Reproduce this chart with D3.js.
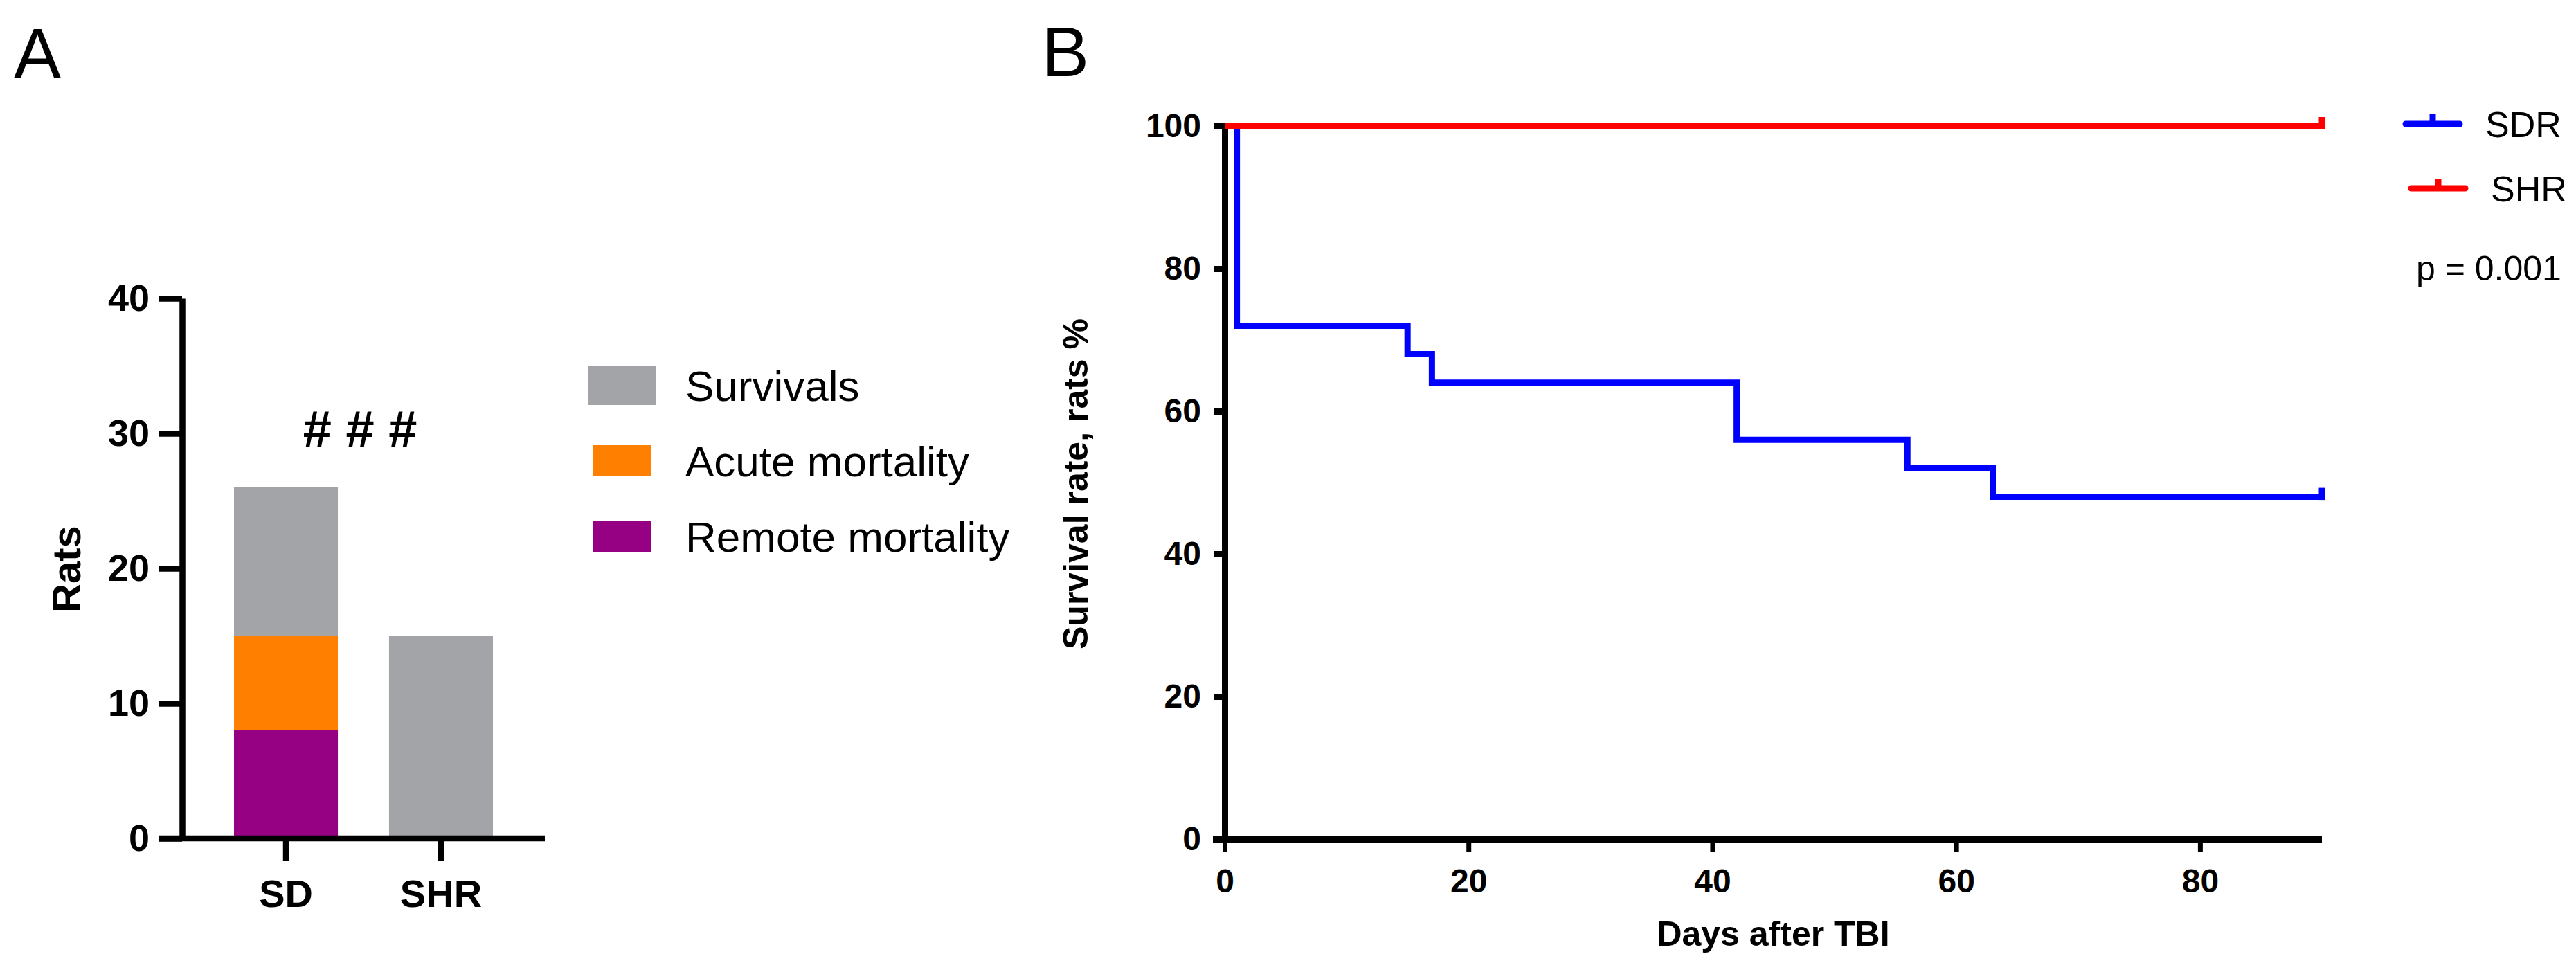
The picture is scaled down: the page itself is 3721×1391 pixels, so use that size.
<!DOCTYPE html>
<html>
<head>
<meta charset="utf-8">
<script src="https://cdn.jsdelivr.net/npm/d3@7"></script>
<style>
  body { margin: 0; background: #fff; }
  svg { display: block; font-family: Arial, 'Liberation Sans', sans-serif; }
</style>
</head>
<body>
<svg id="chart"></svg>
<script>
/* global d3 */

// panel A: stacked bars
const groups = ['SD', 'SHR']
const remoteMortality = [8, 0]
const acuteMortality = [7, 0]
const survivals = [11, 15]
const ratTicks = [0, 10, 20, 30, 40]
const stackKeys = ['remote', 'acute', 'survivals']
const legendA = ['Survivals', 'Acute mortality', 'Remote mortality']
const legendKeys = ['survivals', 'acute', 'remote']

// panel B: Kaplan-Meier curves
const sdrDays = [0, 1, 15, 17, 42, 56, 63, 90]
const sdrSurvival = [100, 72, 68, 64, 56, 52, 48, 48]
const shrDays = [0, 90]
const shrSurvival = [100, 100]
const dayTicks = [0, 20, 40, 60, 80]
const survivalTicks = [0, 20, 40, 60, 80, 100]

document.addEventListener('DOMContentLoaded', function () {
  const width = 3721
  const height = 1391

  const colours = {
    survivals: '#a3a4a8',
    acute: '#ff8000',
    remote: '#960082',
    blue: '#0000ff',
    red: '#ff0000',
    black: '#000000'
  }

  const svg = d3.select('#chart')
    .attr('width', width)
    .attr('height', height)

  // ---------- panel A ----------
  const xA = d3.scaleBand().domain(groups).range([263, 787])
    .paddingInner(0.33).paddingOuter(0.335)
  const yA = d3.scaleLinear().domain([0, 40]).range([1211, 431])

  const rows = groups.map((g, i) => ({
    group: g,
    remote: remoteMortality[i],
    acute: acuteMortality[i],
    survivals: survivals[i]
  }))
  const stacked = d3.stack().keys(stackKeys)(rows)

  svg.append('g')
    .selectAll('g')
    .data(stacked)
    .enter()
    .append('g')
    .attr('fill', d => colours[d.key])
    .selectAll('rect')
    .data(d => d)
    .enter()
    .append('rect')
    .attr('x', d => xA(d.data.group))
    .attr('width', xA.bandwidth())
    .attr('y', d => yA(d[1]))
    .attr('height', d => yA(d[0]) - yA(d[1]))

  const axisA = svg.append('g')
    .attr('transform', 'translate(263,0)')
    .call(d3.axisLeft(yA).tickValues(ratTicks).tickSize(33).tickSizeOuter(0).tickPadding(14))
  axisA.select('.domain').attr('stroke-width', 8.5)
  axisA.selectAll('.tick line').attr('stroke-width', 8.5)
  axisA.selectAll('.tick text').attr('font-size', 54).attr('font-weight', 'bold')
    .attr('font-family', 'Arial, Liberation Sans')

  const xAxisA = svg.append('g')
    .attr('transform', 'translate(0,1211)')
    .call(d3.axisBottom(xA).tickSize(33).tickSizeOuter(0).tickPadding(26))
  xAxisA.select('.domain').remove()
  xAxisA.selectAll('.tick line').attr('stroke-width', 8.5)
  xAxisA.selectAll('.tick text').attr('font-size', 56).attr('font-weight', 'bold')
    .attr('font-family', 'Arial, Liberation Sans')
  svg.append('line')
    .attr('x1', 263 - 33).attr('x2', xA.range()[1])
    .attr('y1', yA(0)).attr('y2', yA(0))
    .attr('stroke', colours.black).attr('stroke-width', 8.5)

  svg.append('text')
    .attr('transform', 'translate(95,822) rotate(-90)')
    .attr('text-anchor', 'middle').attr('dominant-baseline', 'central')
    .attr('font-size', 58).attr('font-weight', 'bold')
    .text('Rats')

  svg.append('text')
    .attr('x', xA('SD') + xA.bandwidth() / 2 + 107).attr('y', 645)
    .attr('text-anchor', 'middle')
    .attr('font-size', 74).attr('font-weight', 'bold')
    .text('# # #')

  const legA = svg.append('g')
    .selectAll('g')
    .data(legendA)
    .enter()
    .append('g')
    .attr('transform', (d, i) => 'translate(0,' + (557 + i * 109) + ')')
  legA.append('rect')
    .attr('x', (d, i) => i === 0 ? 850 : 857)
    .attr('y', (d, i) => i === 0 ? -28 : -23)
    .attr('width', (d, i) => i === 0 ? 97 : 83)
    .attr('height', (d, i) => i === 0 ? 56 : 45)
    .attr('fill', (d, i) => colours[legendKeys[i]])
  legA.append('text')
    .attr('x', 990).attr('y', 22)
    .attr('font-size', 62)
    .text(d => d)

  svg.append('text')
    .attr('x', 20).attr('y', 113)
    .attr('font-size', 102)
    .text('A')

  // ---------- panel B ----------
  const xB = d3.scaleLinear().domain([0, 90]).range([1769, 3354])
  const yB = d3.scaleLinear().domain([0, 100]).range([1212, 182])

  const yAxisB = svg.append('g')
    .attr('transform', 'translate(1769,0)')
    .call(d3.axisLeft(yB).tickValues(survivalTicks).tickSize(15).tickSizeOuter(0).tickPadding(19))
  yAxisB.select('.domain').attr('stroke-width', 9)
  yAxisB.selectAll('.tick line').attr('stroke-width', 9)
  yAxisB.selectAll('.tick text').attr('font-size', 48).attr('font-weight', 'bold')
    .attr('font-family', 'Arial, Liberation Sans')

  const xAxisB = svg.append('g')
    .attr('transform', 'translate(0,1212)')
    .call(d3.axisBottom(xB).tickValues(dayTicks).tickSize(18).tickSizeOuter(0).tickPadding(25))
  xAxisB.select('.domain').remove()
  xAxisB.selectAll('.tick line').attr('stroke-width', 7)
  xAxisB.selectAll('.tick text').attr('font-size', 48).attr('font-weight', 'bold')
    .attr('font-family', 'Arial, Liberation Sans')
  svg.append('line')
    .attr('x1', xB(0) - 17).attr('x2', xB(90))
    .attr('y1', yB(0)).attr('y2', yB(0))
    .attr('stroke', colours.black).attr('stroke-width', 10)

  svg.append('text')
    .attr('x', (xB(0) + xB(90)) / 2).attr('y', 1366)
    .attr('text-anchor', 'middle')
    .attr('font-size', 50).attr('font-weight', 'bold')
    .text('Days after TBI')

  svg.append('text')
    .attr('transform', 'translate(1554,699) rotate(-90)')
    .attr('text-anchor', 'middle').attr('dominant-baseline', 'central')
    .attr('font-size', 50).attr('font-weight', 'bold')
    .text('Survival rate, rats %')

  const line = d3.line()
    .x(d => xB(d[0]))
    .y(d => yB(d[1]))
    .curve(d3.curveStepAfter)

  const curves = [
    { days: sdrDays, values: sdrSurvival, colour: colours.blue },
    { days: shrDays, values: shrSurvival, colour: colours.red }
  ]

  curves.forEach(c => {
    const pts = c.days.map((d, i) => [d, c.values[i]])
    svg.append('path')
      .attr('d', line(pts))
      .attr('fill', 'none')
      .attr('stroke', c.colour)
      .attr('stroke-width', 9)
      .attr('stroke-linejoin', 'miter')
    // censor mark at the end of follow-up
    const last = pts[pts.length - 1]
    svg.append('line')
      .attr('x1', xB(last[0])).attr('x2', xB(last[0]))
      .attr('y1', yB(last[1]) + 4.5).attr('y2', yB(last[1]) - 13)
      .attr('stroke', c.colour).attr('stroke-width', 9)
  })

  const legendB = [
    { name: 'SDR', colour: colours.blue, x: 3475, y: 179 },
    { name: 'SHR', colour: colours.red, x: 3483, y: 272 }
  ]
  legendB.forEach(l => {
    svg.append('line')
      .attr('x1', l.x).attr('x2', l.x + 78)
      .attr('y1', l.y).attr('y2', l.y)
      .attr('stroke', l.colour).attr('stroke-width', 9).attr('stroke-linecap', 'round')
    svg.append('line')
      .attr('x1', l.x + 39).attr('x2', l.x + 39)
      .attr('y1', l.y).attr('y2', l.y - 14)
      .attr('stroke', l.colour).attr('stroke-width', 9)
    svg.append('text')
      .attr('x', l.x + 115).attr('y', l.y + 19)
      .attr('font-size', 52)
      .text(l.name)
  })

  svg.append('text')
    .attr('x', 3490).attr('y', 405)
    .attr('font-size', 50)
    .text('p = 0.001')

  svg.append('text')
    .attr('x', 1505).attr('y', 110)
    .attr('font-size', 102)
    .text('B')
}, false)
</script>
</body>
</html>
